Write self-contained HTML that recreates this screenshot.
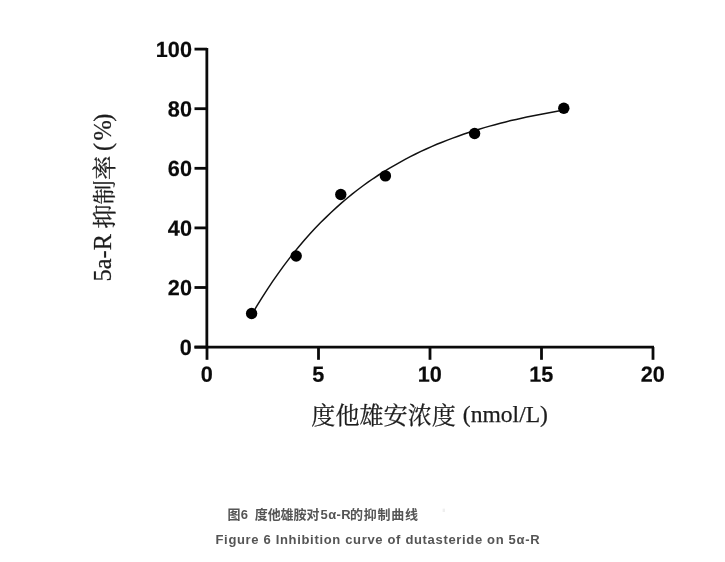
<!DOCTYPE html>
<html lang="zh"><head><meta charset="utf-8"><title>Figure 6</title>
<style>
html,body{margin:0;padding:0;background:#fff;}
body{width:725px;height:562px;overflow:hidden;position:relative;}
svg{position:absolute;left:0;top:0;display:block;}
.tick text{font-family:"Liberation Sans",sans-serif;font-weight:bold;font-size:23px;fill:#0a0a0a;stroke:#0a0a0a;stroke-width:0.2px;}
.ax line,.ax path{stroke:#0a0a0a;stroke-width:2.8;fill:none;}
.lab{font-family:"Liberation Serif","Noto Serif CJK SC",serif;font-size:24px;fill:#1c1c1c;stroke:#1c1c1c;stroke-width:0.25px;}
.cap1{font-family:"Liberation Sans","Noto Sans CJK SC",sans-serif;font-weight:bold;font-size:13px;fill:#555;letter-spacing:0.65px;}
.cap2{font-family:"Liberation Sans",sans-serif;font-weight:bold;font-size:13px;fill:#555;letter-spacing:0.67px;}
</style></head><body>
<svg width="725" height="562" viewBox="0 0 725 562">
<rect width="725" height="562" fill="#fff"/>
<rect x="442.6" y="508.6" width="2.4" height="3.4" fill="#efefef"/>
<g class="ax">
<path d="M206.85 47.9V347.05"/>
<path d="M194.5 347.05H654.0"/>
<line x1="194.5" y1="347.1" x2="207" y2="347.1"/>
<line x1="194.5" y1="287.5" x2="207" y2="287.5"/>
<line x1="194.5" y1="227.9" x2="207" y2="227.9"/>
<line x1="194.5" y1="168.3" x2="207" y2="168.3"/>
<line x1="194.5" y1="108.7" x2="207" y2="108.7"/>
<line x1="194.5" y1="49.1" x2="207" y2="49.1"/>
<line x1="207.0" y1="347.05" x2="207.0" y2="359.8"/>
<line x1="318.5" y1="347.05" x2="318.5" y2="359.8"/>
<line x1="430.0" y1="347.05" x2="430.0" y2="359.8"/>
<line x1="541.5" y1="347.05" x2="541.5" y2="359.8"/>
<line x1="653.0" y1="347.05" x2="653.0" y2="359.8"/>
</g>
<polyline points="251.6,314.8 256.9,305.9 262.2,297.3 267.5,289.1 272.8,281.2 278.1,273.6 283.3,266.4 288.6,259.4 293.9,252.6 299.2,246.2 304.5,240.0 309.8,234.0 315.1,228.3 320.4,222.8 325.7,217.6 331.0,212.5 336.3,207.6 341.6,202.9 346.8,198.5 352.1,194.1 357.4,190.0 362.7,186.0 368.0,182.2 373.3,178.5 378.6,175.0 383.9,171.6 389.2,168.4 394.5,165.3 399.8,162.3 405.1,159.4 410.3,156.6 415.6,154.0 420.9,151.4 426.2,149.0 431.5,146.6 436.8,144.3 442.1,142.2 447.4,140.1 452.7,138.1 458.0,136.2 463.3,134.3 468.6,132.5 473.8,130.8 479.1,129.2 484.4,127.6 489.7,126.1 495.0,124.7 500.3,123.3 505.6,121.9 510.9,120.6 516.2,119.4 521.5,118.2 526.8,117.1 532.1,116.0 537.3,114.9 542.6,113.9 547.9,113.0 553.2,112.0 558.5,111.1 563.8,110.3" fill="none" stroke="#111" stroke-width="1.5"/>
<g fill="#000">
<circle cx="251.6" cy="313.5" r="5.7"/>
<circle cx="296.2" cy="256.0" r="5.7"/>
<circle cx="340.8" cy="194.5" r="5.7"/>
<circle cx="385.4" cy="175.9" r="5.7"/>
<circle cx="474.6" cy="133.5" r="5.7"/>
<circle cx="563.8" cy="108.3" r="5.7"/>
</g>
<g class="tick">
<text transform="translate(191.9,354.9) rotate(0.03) scale(0.94,0.955)" text-anchor="end">0</text>
<text transform="translate(191.9,295.3) rotate(0.03) scale(0.94,0.955)" text-anchor="end">20</text>
<text transform="translate(191.9,235.7) rotate(0.03) scale(0.94,0.955)" text-anchor="end">40</text>
<text transform="translate(191.9,176.1) rotate(0.03) scale(0.94,0.955)" text-anchor="end">60</text>
<text transform="translate(191.9,116.5) rotate(0.03) scale(0.94,0.955)" text-anchor="end">80</text>
<text transform="translate(191.9,56.9) rotate(0.03) scale(0.94,0.955)" text-anchor="end">100</text>
<text transform="translate(206.7,381.8) rotate(0.03) scale(0.94,0.955)" text-anchor="middle">0</text>
<text transform="translate(318.2,381.8) rotate(0.03) scale(0.94,0.955)" text-anchor="middle">5</text>
<text transform="translate(429.7,381.8) rotate(0.03) scale(0.94,0.955)" text-anchor="middle">10</text>
<text transform="translate(541.2,381.8) rotate(0.03) scale(0.94,0.955)" text-anchor="middle">15</text>
<text transform="translate(652.7,381.8) rotate(0.03) scale(0.94,0.955)" text-anchor="middle">20</text>
</g>
<text class="lab" style="font-size:24.4px" transform="translate(111.3,198.4) rotate(-90)" text-anchor="middle"><tspan dx="0.8">5a-R </tspan><tspan dy="1.2" dx="-0.8">抑制率</tspan><tspan dy="-1.2" dx="-1.6"> (</tspan><tspan dx="2.4">%</tspan><tspan dx="-1.6">)</tspan></text>
<text class="lab" style="font-size:24.1px" x="311.3" y="424">度他雄安浓度<tspan dy="-1.8" dx="1.0" style="font-size:23.6px"> (nmol/L)</tspan></text>
<text class="cap1" y="518.6"><tspan x="227.5" style="letter-spacing:0.2px">图6</tspan><tspan x="254.8" style="letter-spacing:-0.1px">度他雄胺对</tspan><tspan x="320.5" style="letter-spacing:0.4px">5α-R</tspan><tspan x="350.0" style="letter-spacing:0.75px">的抑制曲线</tspan></text>
<text class="cap2" x="215.5" y="543.5">Figure 6 Inhibition curve of dutasteride on 5α-R</text>
</svg>
</body></html>
